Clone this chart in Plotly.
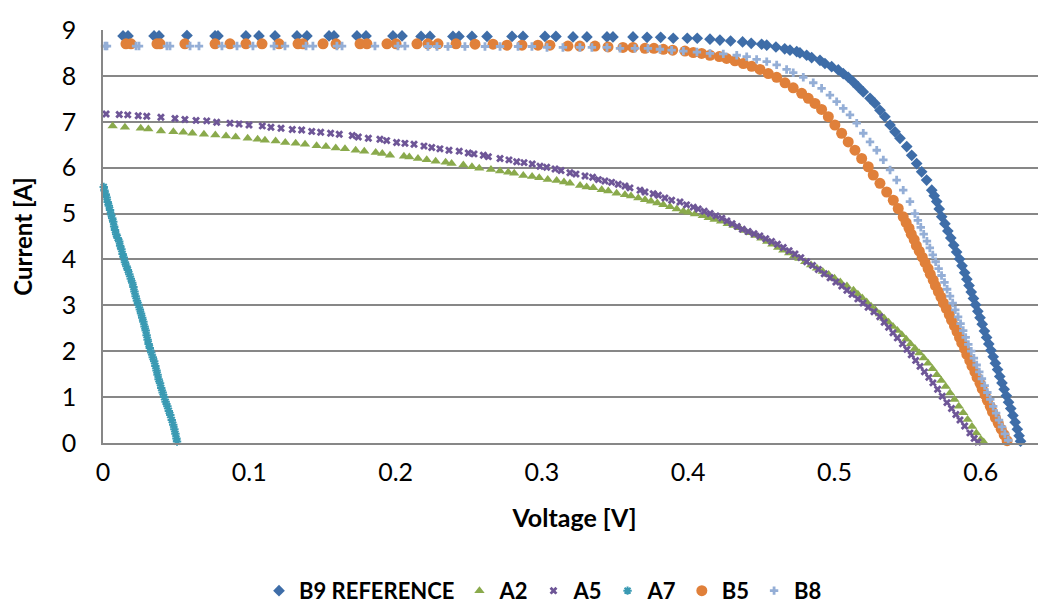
import plotly.graph_objects as go

# ---------------- data (Voltage [V], Current [A]) ----------------
B9_V = [0.0137,0.0171,0.0349,0.0383,0.0574,0.0766,0.0786,0.0977,0.1066,0.1176,0.1326,0.1394,0.1545,0.1579,0.1736,0.1798,0.1982,0.2044,0.2174,0.2235,0.2392,0.2433,0.2522,0.2625,0.2796,0.2871,0.3021,0.3096,0.3213,0.3308,0.3445,0.3486,0.3623,
        0.3719,0.3812,0.3898,0.3994,0.4062,0.4149,0.4217,0.4290,0.4372,0.4431,0.4502,0.4537,0.4600,0.4660,0.4696,0.4742,0.4764,0.4810,0.4844,0.4901,0.4935,0.4981,0.5026,0.5060,0.5094,0.5128,0.5163,0.5197,0.5243,0.5277,0.5311,0.5345,0.5380,0.5414,0.5448,0.5494,0.5528,0.5562,0.5596,0.5630,0.5665,0.5682,0.5699,0.5716,0.5733,
        0.5755,0.5775,0.5795,0.5815,0.5835,0.5855,0.5872,0.5890,0.5905,0.5920,0.5935,0.5950,0.5965,0.5980,0.5995,0.6010,0.6025,0.6040,0.6055,0.6070,0.6085,0.6100,0.6115,0.6130,0.6145,0.6160,0.6175,0.6190,0.6205,0.6220,0.6235,0.6250,0.6262,0.6272]
B9_I = [8.87,8.87,8.87,8.87,8.88,8.87,8.87,8.87,8.87,8.87,8.87,8.87,8.87,8.87,8.87,8.87,8.87,8.87,8.86,8.86,8.86,8.86,8.86,8.86,8.86,8.86,8.86,8.86,8.85,8.85,8.85,8.85,8.85,
        8.84,8.84,8.82,8.82,8.82,8.80,8.78,8.76,8.74,8.71,8.69,8.67,8.63,8.59,8.56,8.53,8.50,8.45,8.40,8.34,8.27,8.20,8.13,8.05,7.97,7.87,7.76,7.65,7.51,7.40,7.25,7.11,6.93,6.78,6.64,6.46,6.27,6.09,5.91,5.73,5.51,5.39,5.26,5.10,4.93,
        4.78,4.62,4.47,4.31,4.16,4.01,3.86,3.71,3.57,3.43,3.29,3.15,3.01,2.87,2.73,2.59,2.44,2.30,2.16,2.02,1.88,1.74,1.60,1.45,1.31,1.17,1.03,0.89,0.75,0.60,0.45,0.30,0.16,0.04]

A2_V = [0.0066,0.0150,0.0258,0.0310,0.0396,0.0481,0.0549,0.0611,0.0690,0.0768,0.0841,0.0907,0.0989,0.1057,0.1107,0.1180,0.1246,0.1317,0.1381,0.1460,0.1524,0.1591,0.1654,0.1727,0.1786,0.1864,0.1909,0.1962,
        0.2057,0.2094,0.2153,0.2213,0.2274,0.2342,0.2383,0.2463,0.2522,0.2572,0.2652,0.2714,0.2770,0.2811,0.2873,0.2933,0.2982,0.3040,0.3101,0.3151,0.3192,0.3261,0.3306,0.3351,0.3409,0.3454,0.3511,0.3568,0.3609,0.3659,0.3705,0.3746,0.3789,0.3830,0.3876,0.3922,0.3967,0.4001,0.4046,
        0.4100,0.4140,0.4180,0.4225,0.4270,0.4310,0.4350,0.4385,0.4420,0.4460,0.4500,0.4540,0.4575,0.4615,0.4650,0.4690,0.4725,0.4760,0.4800,0.4840,0.4880,0.4920,0.4960,0.5000,0.5040,0.5085,0.5130,0.5160,0.5190,0.5220,0.5250,0.5280,0.5310,0.5340,0.5370,0.5400,0.5430,0.5460,0.5490,0.5520,0.5550,0.5580,0.5610,0.5640,0.5670,0.5700,0.5730,0.5760,0.5790,0.5820,0.5850,0.5880,0.5910,0.5940,0.5970,0.6000,0.6020]
A2_I = [6.91,6.88,6.86,6.84,6.80,6.78,6.77,6.75,6.73,6.71,6.69,6.67,6.64,6.62,6.60,6.58,6.55,6.53,6.51,6.48,6.46,6.43,6.41,6.38,6.36,6.33,6.31,6.27,
        6.25,6.23,6.20,6.17,6.14,6.12,6.09,6.06,6.02,5.99,5.96,5.93,5.90,5.88,5.83,5.81,5.78,5.74,5.72,5.69,5.66,5.61,5.58,5.56,5.52,5.49,5.44,5.41,5.38,5.34,5.30,5.27,5.23,5.19,5.15,5.10,5.05,5.03,4.99,
        4.95,4.91,4.87,4.83,4.78,4.74,4.69,4.63,4.58,4.52,4.46,4.39,4.33,4.26,4.20,4.14,4.08,4.02,3.95,3.88,3.81,3.74,3.67,3.59,3.51,3.42,3.33,3.24,3.16,3.07,2.98,2.90,2.81,2.72,2.63,2.54,2.45,2.36,2.26,2.16,2.06,1.96,1.85,1.74,1.62,1.49,1.36,1.23,1.09,0.95,0.80,0.66,0.51,0.36,0.22,0.08,0.02]

A5_V = [0.0021,0.0111,0.0169,0.0241,0.0299,0.0396,0.0492,0.0560,0.0636,0.0709,0.0777,0.0868,0.0930,0.0998,0.1089,0.1148,0.1217,0.1294,0.1358,0.1427,0.1488,0.1556,0.1615,0.1704,0.1745,0.1814,0.1893,0.1939,
        0.2007,0.2064,0.2126,0.2194,0.2247,0.2303,0.2365,0.2435,0.2497,0.2536,0.2600,0.2634,0.2714,0.2775,0.2828,0.2878,0.2934,0.2987,0.3033,0.3090,0.3131,0.3192,0.3233,0.3295,0.3347,0.3386,0.3431,0.3477,0.3522,0.3568,0.3602,0.3671,0.3705,0.3761,0.3796,0.3841,0.3887,0.3944,0.3989,0.4035,0.4069,
        0.4110,0.4150,0.4190,0.4230,0.4265,0.4300,0.4335,0.4370,0.4410,0.4450,0.4490,0.4530,0.4570,0.4610,0.4650,0.4690,0.4730,0.4770,0.4810,0.4850,0.4890,0.4930,0.4970,0.5010,0.5050,0.5085,0.5120,0.5160,0.5195,0.5230,0.5270,0.5310,0.5340,0.5370,0.5400,0.5430,0.5465,0.5495,0.5525,0.5555,0.5585,0.5615,0.5645,0.5673,0.5705,0.5737,0.5769,0.5800,0.5830,0.5858,0.5890,0.5926,0.5955,0.5980]
A5_I = [7.17,7.16,7.15,7.13,7.12,7.10,7.07,7.05,7.03,7.02,6.99,6.97,6.95,6.93,6.91,6.88,6.86,6.83,6.82,6.79,6.77,6.75,6.73,6.70,6.67,6.64,6.62,6.59,
        6.55,6.53,6.51,6.47,6.44,6.41,6.38,6.36,6.32,6.30,6.27,6.24,6.20,6.17,6.13,6.11,6.08,6.03,6.01,5.97,5.94,5.89,5.86,5.82,5.79,5.74,5.71,5.68,5.64,5.60,5.56,5.51,5.47,5.43,5.40,5.34,5.29,5.25,5.19,5.14,5.10,
        5.05,5.00,4.95,4.90,4.84,4.78,4.72,4.66,4.61,4.56,4.51,4.45,4.39,4.33,4.26,4.19,4.12,4.04,3.95,3.87,3.78,3.69,3.60,3.51,3.42,3.33,3.24,3.14,3.05,2.96,2.86,2.75,2.63,2.52,2.40,2.29,2.16,2.04,1.92,1.80,1.67,1.55,1.43,1.31,1.17,1.02,0.88,0.75,0.62,0.50,0.37,0.22,0.10,0.02]

A7_V = [0.0005,0.0010,0.0018,0.0025,0.0032,0.0040,0.0048,0.0055,0.0063,0.0070,0.0076,0.0082,0.0090,0.0100,0.0111,0.0117,0.0126,0.0134,0.0142,0.0150,0.0160,0.0170,0.0180,0.0190,0.0200,0.0208,0.0215,0.0223,0.0232,0.0242,0.0252,0.0260,0.0268,0.0276,0.0284,0.0292,0.0298,0.0305,0.0312,0.0320,0.0330,0.0340,0.0350,0.0358,0.0366,0.0373,0.0380,0.0390,0.0398,0.0408,0.0418,0.0428,0.0440,0.0450,0.0460,0.0470,0.0480,0.0488,0.0495,0.0502,0.0506]
A7_I = [5.58,5.50,5.42,5.35,5.25,5.17,5.08,4.98,4.90,4.82,4.72,4.64,4.55,4.47,4.39,4.30,4.22,4.12,4.04,3.94,3.85,3.77,3.68,3.58,3.49,3.40,3.30,3.20,3.10,3.01,2.91,2.82,2.73,2.64,2.54,2.45,2.35,2.25,2.16,2.07,1.97,1.87,1.78,1.68,1.58,1.49,1.39,1.30,1.20,1.10,1.00,0.90,0.80,0.70,0.61,0.50,0.40,0.30,0.20,0.10,0.03]

B5_V = [0.0157,0.0191,0.0369,0.0390,0.0560,0.0766,0.0868,0.0977,0.1087,0.1203,0.1333,0.1367,0.1504,0.1593,0.1757,0.1804,0.1941,0.2003,0.2146,0.2221,0.2290,0.2413,0.2543,0.2666,0.2761,0.2864,0.2973,0.3055,0.3178,0.3260,0.3363,0.3452,0.3554,0.3623,
        0.3705,0.3766,0.3830,0.3894,0.3978,0.4035,0.4092,0.4149,0.4213,0.4263,0.4320,0.4377,0.4434,0.4491,0.4548,0.4605,0.4662,0.4718,0.4776,0.4821,0.4867,0.4912,0.4958,0.5003,0.5049,0.5094,0.5140,0.5186,0.5231,0.5265,0.5311,0.5357,0.5402,0.5436,0.5470,
        0.5490,0.5510,0.5525,0.5545,0.5560,0.5580,0.5600,0.5620,0.5640,0.5655,0.5675,0.5690,0.5710,0.5728,0.5745,0.5765,0.5785,0.5800,0.5820,0.5838,0.5855,0.5870,0.5890,0.5905,0.5925,0.5940,0.5960,0.5975,0.5995,0.6010,0.6030,0.6045,0.6065,0.6080,0.6100,0.6120,0.6140,0.6160,0.6180]
B5_I = [8.70,8.70,8.70,8.70,8.70,8.70,8.70,8.70,8.70,8.70,8.70,8.70,8.70,8.70,8.70,8.70,8.70,8.70,8.70,8.70,8.70,8.70,8.69,8.69,8.67,8.67,8.67,8.67,8.65,8.65,8.65,8.63,8.62,8.62,
        8.60,8.60,8.58,8.56,8.54,8.51,8.49,8.45,8.42,8.38,8.33,8.27,8.21,8.14,8.05,7.97,7.85,7.74,7.62,7.51,7.40,7.27,7.11,6.93,6.75,6.56,6.38,6.20,6.02,5.84,5.66,5.47,5.29,5.11,4.93,
        4.80,4.68,4.55,4.43,4.30,4.18,4.05,3.93,3.80,3.68,3.55,3.43,3.30,3.18,3.05,2.93,2.80,2.68,2.55,2.43,2.30,2.18,2.05,1.93,1.80,1.68,1.55,1.43,1.30,1.18,1.05,0.93,0.80,0.68,0.55,0.43,0.30,0.18,0.05]

B8_V = [0.0014,0.0027,0.0226,0.0246,0.0437,0.0458,0.0595,0.0656,0.0813,0.0916,0.1025,0.1169,0.1244,0.1388,0.1435,0.1599,0.1634,0.1859,0.2016,0.2064,0.2221,0.2283,0.2358,0.2474,0.2611,0.2714,0.2837,0.2932,0.3035,0.3144,0.3260,0.3342,0.3445,0.3534,0.3636,0.3725,
        0.3807,0.3887,0.3967,0.4060,0.4149,0.4240,0.4332,0.4400,0.4468,0.4537,0.4605,0.4673,0.4718,0.4787,0.4855,0.4912,0.4969,0.5015,0.5060,0.5106,0.5152,0.5197,0.5243,0.5289,0.5334,0.5380,0.5425,0.5470,0.5516,0.5550,
        0.5570,0.5590,0.5610,0.5632,0.5652,0.5672,0.5692,0.5712,0.5732,0.5752,0.5770,0.5790,0.5808,0.5826,0.5845,0.5862,0.5880,0.5897,0.5915,0.5935,0.5953,0.5972,0.5990,0.6008,0.6027,0.6045,0.6065,0.6085,0.6105,0.6125,0.6145,0.6165,0.6188]
B8_I = [8.65,8.65,8.65,8.65,8.65,8.65,8.65,8.65,8.65,8.65,8.65,8.65,8.65,8.65,8.65,8.65,8.65,8.65,8.65,8.65,8.64,8.64,8.64,8.64,8.64,8.64,8.64,8.64,8.62,8.62,8.62,8.62,8.62,8.60,8.60,8.60,
        8.58,8.56,8.54,8.52,8.49,8.48,8.45,8.42,8.36,8.31,8.24,8.14,8.07,7.97,7.85,7.73,7.58,7.44,7.29,7.15,6.97,6.75,6.56,6.38,6.17,5.95,5.73,5.51,5.26,5.00,
        4.85,4.70,4.55,4.40,4.25,4.10,3.95,3.80,3.65,3.50,3.35,3.20,3.05,2.90,2.75,2.60,2.45,2.30,2.15,2.00,1.85,1.70,1.55,1.40,1.25,1.10,0.95,0.80,0.65,0.50,0.35,0.20,0.06]

X_TICKS = [0, 0.1, 0.2, 0.3, 0.4, 0.5, 0.6]
X_TICK_TEXT = ["0", "0.1", "0.2", "0.3", "0.4", "0.5", "0.6"]
Y_TICKS = [0, 1, 2, 3, 4, 5, 6, 7, 8, 9]

# ---------------- styling ----------------
FONT = "Lato"
series = [
    ("B9 REFERENCE", B9_V, B9_I, dict(symbol="diamond", size=9, color="#3E6DA8")),
    ("A2", A2_V, A2_I, dict(symbol="triangle-up", size=9, color="#8AAA4C")),
    ("A5", A5_V, A5_I, dict(symbol="x", size=7, color="#6E5697")),
    ("A7", A7_V, A7_I, dict(symbol="asterisk-open", size=7, color="#3A9AB3",
                            line=dict(width=2, color="#3A9AB3"))),
    ("B5", B5_V, B5_I, dict(symbol="circle", size=11, color="#E0803A")),
    ("B8", B8_V, B8_I, dict(symbol="cross", size=7, color="#94AED6")),
]

fig = go.Figure()
for name, xv, yv, mk in series:
    m = dict(mk)
    if "line" not in m:
        m["line"] = dict(width=0)
    fig.add_trace(go.Scatter(x=xv, y=yv, mode="markers", name=name,
                             marker=m, cliponaxis=False))

grid_col = "#878787"
# page body has an 8px default margin: the figure is sized/offset to compensate
fig.update_layout(
    width=1038, height=598,
    margin=dict(l=95, r=0, t=22, b=163, autoexpand=False),
    paper_bgcolor="white", plot_bgcolor="white",
    font=dict(family=FONT, size=25, color="#000000"),
    showlegend=True,
    legend=dict(orientation="h", x=0.4666, xanchor="center", y=-0.358, yanchor="middle",
                font=dict(family=FONT, size=22, color="#000000", weight="bold"),
                itemwidth=30, traceorder="normal"),
    xaxis=dict(range=[0, 0.6446], tickmode="array", tickvals=X_TICKS, ticktext=X_TICK_TEXT,
               showgrid=False, zeroline=False, showline=True, linecolor=grid_col, linewidth=1.5,
               ticks="outside", ticklen=6, tickcolor="rgba(0,0,0,0)",
               tickfont=dict(family=FONT, size=25, color="#000000"),
               title=dict(text="<b>Voltage [V]</b>", font=dict(family=FONT, size=25, color="#000000"),
                          standoff=25)),
    yaxis=dict(range=[0, 9], tickmode="array", tickvals=Y_TICKS,
               showgrid=True, gridcolor=grid_col, gridwidth=1.5,
               zeroline=False, showline=True, linecolor=grid_col, linewidth=1.5,
               ticks="outside", ticklen=20, tickcolor="rgba(0,0,0,0)",
               tickfont=dict(family=FONT, size=25, color="#000000"),
               title=dict(text="<b>Current [A]</b>", font=dict(family=FONT, size=24, color="#000000"),
                          standoff=22)),
)

fig.write_html("out.html")
